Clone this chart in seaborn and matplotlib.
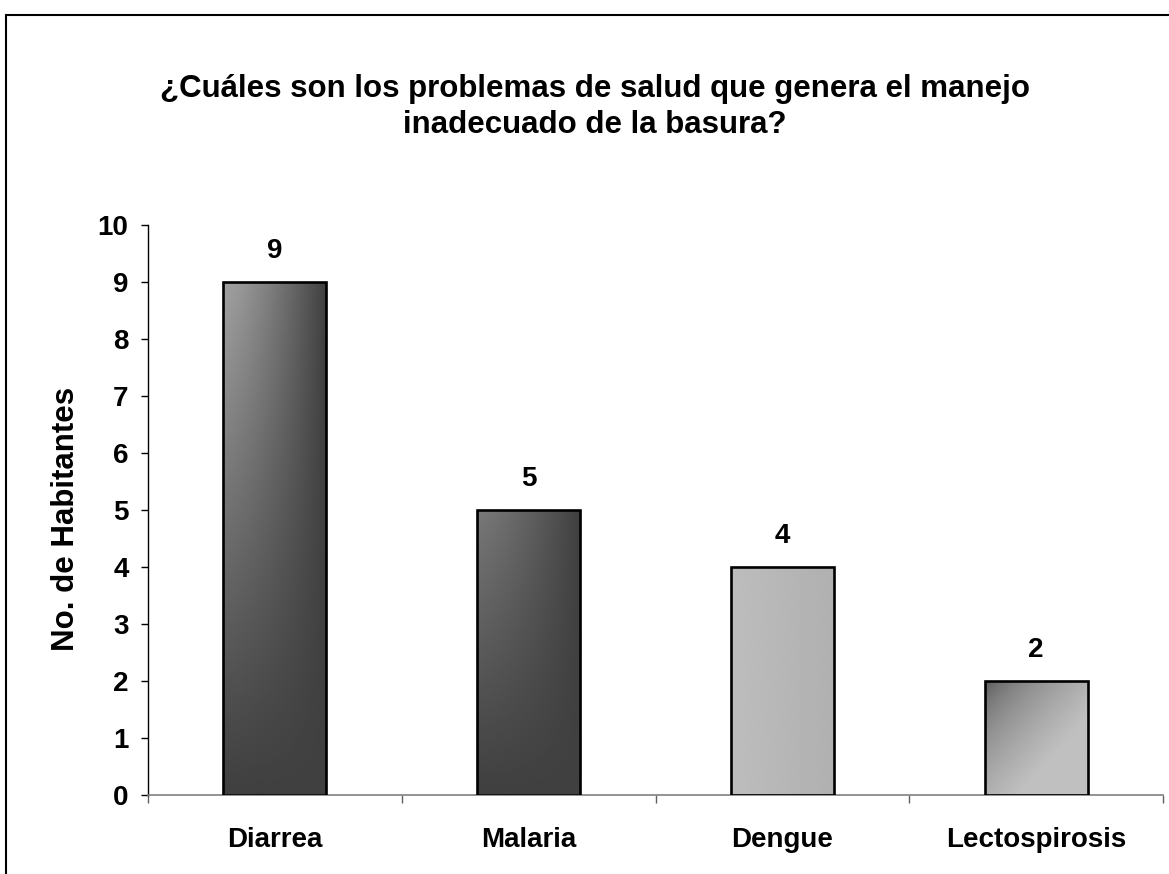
import numpy as np
import matplotlib
matplotlib.use("Agg")
import matplotlib.pyplot as plt
import seaborn as sns
from matplotlib.patches import Rectangle

# Data
categories = ["Diarrea", "Malaria", "Dengue", "Lectospirosis"]
habitantes = [9, 5, 4, 2]
y_ticks = list(range(0, 11))
title = "¿Cuáles son los problemas de salud que genera el manejo\ninadecuado de la basura?"
y_label = "No. de Habitantes"

sns.set_style("white")
plt.rcParams['font.family'] = ['Liberation Sans', 'DejaVu Sans']
plt.rcParams['font.weight'] = 'bold'
plt.rcParams['text.color'] = 'black'
plt.rcParams['axes.labelcolor'] = 'black'
plt.rcParams['xtick.color'] = 'black'
plt.rcParams['ytick.color'] = 'black'


def bar_gradient(kind, n=200):
    """Grey-level fill (0..1) for one bar, row 0 at the top."""
    x = np.linspace(0, 1, n)[None, :]
    y = np.linspace(0, 1, n)[:, None]
    if kind == "light_left":
        return 0.25 + 0.38 * (1 - x ** 1.3) * (1 - y) ** 1.1
    if kind == "mid_left":
        return 0.25 + 0.22 * (1 - x ** 1.3) * (1 - y) ** 1.1
    if kind == "flat":
        return 0.74 - 0.05 * x + 0.0 * y
    # diagonal, dark top-left corner
    return 0.31 + 0.44 * np.clip((x + y) / 1.3, 0, 1) ** 0.55


fig = plt.figure(figsize=(11.69, 8.74), dpi=100)
ax = fig.add_axes([148 / 1169, 79 / 874, 1015 / 1169, 570 / 874])

sns.barplot(x=categories, y=habitantes, color="0.5", width=0.405,
            edgecolor="black", linewidth=1.9, ax=ax, zorder=3)

kinds = ["light_left", "mid_left", "flat", "diag"]
for patch, kind in zip(ax.patches, kinds):
    bx, by = patch.get_x(), patch.get_y()
    bw, bh = patch.get_width(), patch.get_height()
    patch.set_facecolor("none")
    im = ax.imshow(bar_gradient(kind), cmap="gray", vmin=0, vmax=1,
                   extent=[bx, bx + bw, by, by + bh], aspect="auto",
                   interpolation="bilinear", zorder=2)
    im.set_clip_path(patch)

ax.set_xlim(-0.5, len(categories) - 0.5)
ax.set_ylim(0, 10)
ax.set_yticks(y_ticks)

# value labels
ax.bar_label(ax.containers[0], labels=[str(v) for v in habitantes],
             padding=13, fontsize=20, fontweight="bold", color="black")

# axes styling
for side in ["top", "right"]:
    ax.spines[side].set_visible(False)
ax.spines["left"].set_color("black")
ax.spines["left"].set_linewidth(1.0)
ax.spines["bottom"].set_color("#808080")
ax.spines["bottom"].set_linewidth(1.2)

ax.tick_params(axis="y", direction="out", length=5, width=1.0, color="black",
               pad=9, labelsize=20, left=True)
ax.tick_params(axis="x", which="major", length=0, pad=23, labelsize=20)
ax.set_xticks(np.arange(-0.5, len(categories), 1.0), minor=True)
ax.tick_params(axis="x", which="minor", direction="out", length=6, width=1.0,
               color="#606060", bottom=True)
for lab in ax.get_xticklabels() + ax.get_yticklabels():
    lab.set_fontweight("bold")

ax.set_ylabel(y_label, fontsize=22.5, fontweight="bold")
ax.yaxis.set_label_coords(-0.066, 0.484)
ax.set_xlabel("")

fig.text(0.509, 1 - 107 / 874, title, ha="center", va="center",
         fontsize=22.5, fontweight="bold", linespacing=1.25)

# chart frame (top and left edges visible in the reference)
fig.add_artist(Rectangle((6 / 1169, -0.1), 2, 1.1 - 15 / 874,
                         transform=fig.transFigure, fill=False,
                         edgecolor="black", linewidth=1.5))

fig.savefig("out.png", dpi=100)
